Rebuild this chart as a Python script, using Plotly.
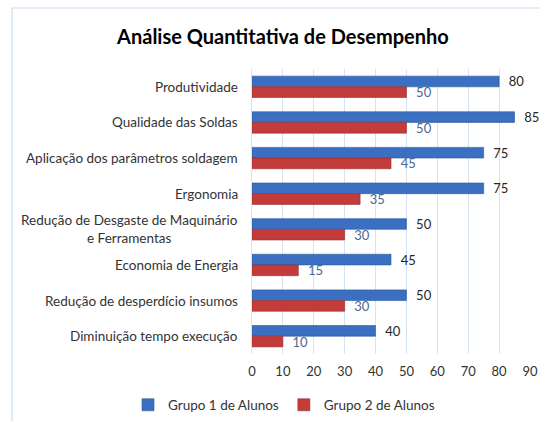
import plotly.graph_objects as go

categories = [
    "Produtividade",
    "Qualidade das Soldas",
    "Aplicação dos parâmetros soldagem",
    "Ergonomia",
    "Redução de Desgaste de Maquinário<br>e Ferramentas",
    "Economia de Energia",
    "Redução de desperdício insumos",
    "Diminuição tempo execução",
]
grupo1 = [80, 85, 75, 75, 50, 45, 50, 40]
grupo2 = [50, 50, 45, 35, 30, 15, 30, 10]
series_names = ["Grupo 1 de Alunos", "Grupo 2 de Alunos"]
x_ticks = [0, 10, 20, 30, 40, 50, 60, 70, 80, 90]

FONT = "Lato"

fig = go.Figure()
fig.add_trace(go.Bar(
    y=categories, x=grupo1, orientation="h", name=series_names[0],
    marker=dict(color="#3b6fc1", line=dict(color="#2d5899", width=0.6)),
    text=grupo1, texttemplate="  %{x}", textposition="outside",
    constraintext="none",
    textfont=dict(family=FONT, size=13, color="#262626"), cliponaxis=False,
))
fig.add_trace(go.Bar(
    y=categories, x=grupo2, orientation="h", name=series_names[1],
    marker=dict(color="#c33b3b", line=dict(color="#9a2d2d", width=0.6)),
    text=grupo2, texttemplate="  %{x}", textposition="outside",
    constraintext="none",
    textfont=dict(family=FONT, size=13, color="#4f6790"), cliponaxis=False,
))

for c in categories:
    fig.add_annotation(
        x=0, xref="paper", y=c, yref="y", text=c, showarrow=False,
        xanchor="right", xshift=-12, align="center",
        font=dict(family=FONT, size=13.5, color="#333333"),
    )

fig.add_shape(type="rect", xref="paper", yref="paper",
              x0=-0.863, x1=1.06, y0=-0.26, y1=1.214,
              line=dict(color="#c9dcef", width=1.2), layer="below")

fig.update_layout(
    width=540, height=421, autosize=False,
    margin=dict(l=252, r=10, t=69, b=67, autoexpand=False),
    paper_bgcolor="white", plot_bgcolor="white",
    barmode="group", bargap=0.4, bargroupgap=0,
    title=dict(text="<b>Análise Quantitativa de Desempenho</b>",
               x=0.524, xanchor="center", y=1 - 37 / 421, yanchor="middle",
               font=dict(family=FONT, size=20, color="#000000")),
    xaxis=dict(range=[0, 90], tickvals=x_ticks, showgrid=True, automargin=False,
               gridcolor="#d6e3f3", gridwidth=1, zeroline=False,
               showline=False, ticks="", tickfont=dict(family=FONT, size=13, color="#333333"),
               ticklabelstandoff=8),
    yaxis=dict(autorange="reversed", showticklabels=False, showgrid=False,
               automargin=False,
               showline=True, linecolor="#d6e3f3", ticks=""),
    legend=dict(orientation="h", xref="paper", yref="paper",
                x=(128 - 252) / 278, xanchor="left",
                y=(354 - 405) / 285, yanchor="middle",
                font=dict(family=FONT, size=13.5, color="#333333"),
                itemwidth=30, tracegroupgap=0),
    showlegend=True,
)

fig.write_html("out.html",
               config={"displayModeBar": False, "responsive": False},
               post_script="document.body.style.margin='0';")
